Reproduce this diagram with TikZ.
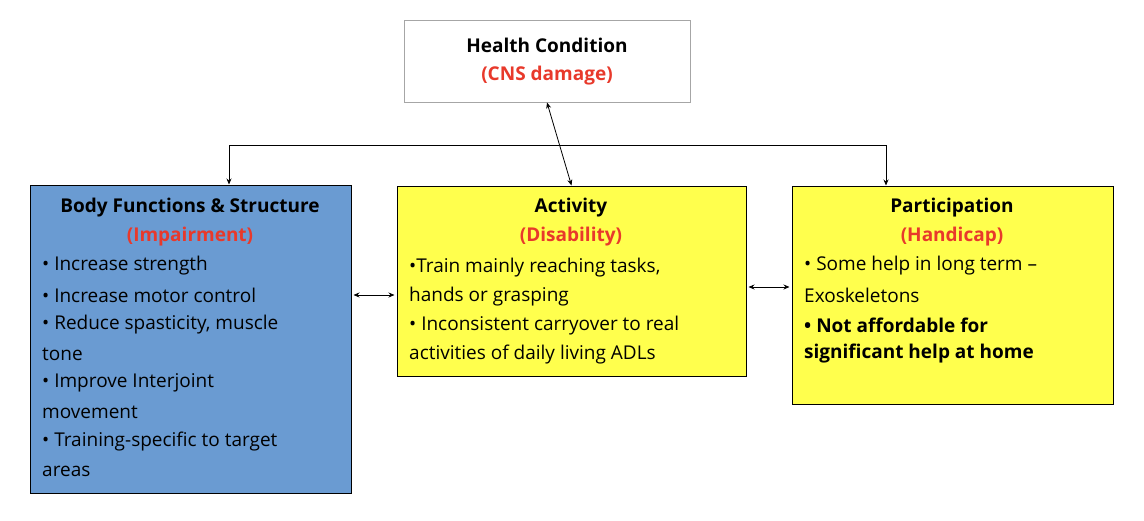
\documentclass[tikz,border=0pt]{standalone}
\usepackage{fontspec}
\setmainfont{Open Sans}
\usetikzlibrary{arrows.meta}
\definecolor{redt}{HTML}{E8392B}
\definecolor{bluef}{HTML}{6A9BD2}
\definecolor{yelf}{HTML}{FFFF4D}
\tikzset{
 box/.style={draw=black, line width=1pt},
 txt/.style={anchor=west, inner sep=0pt, font=\fontsize{19}{29}\selectfont},
 ttl/.style={anchor=center, inner sep=0pt, font=\fontsize{19}{29}\selectfont\bfseries},
 conn/.style={line width=0.8pt, -{Stealth[length=6pt,width=5pt]}},
 dconn/.style={line width=0.8pt, {Stealth[length=6pt,width=5pt]}-{Stealth[length=6pt,width=5pt]}}
}
\begin{document}
\begin{tikzpicture}[x=1pt,y=-1pt]
\useasboundingbox (0,0) rectangle (1144,520);
\node[box, draw=gray!70, fill=white, minimum width=286, minimum height=82, inner sep=0pt] (hc) at (547,61) {};
\node[ttl] (hct) at (547,45) {Health Condition};
\node[ttl, text=redt] (hcs) at (547,76) {(CNS damage)};
\node[box, fill=bluef, minimum width=321, minimum height=308, inner sep=0pt] (bf) at (190.5,339) {};
\node[box, fill=yelf, minimum width=349, minimum height=190, inner sep=0pt] (ac) at (571.5,281) {};
\node[box, fill=yelf, minimum width=321, minimum height=218, inner sep=0pt] (pa) at (952.5,295) {};
% body
\node[ttl] (b1) at (190,208) {Body Functions \& Structure};
\node[ttl, text=redt] (b2) at (190,237) {(Impairment)};
\node[txt] (b3) at (42,266) {• Increase strength};
\node[txt] (b4) at (42,295) {• Increase motor control};
\node[txt] (b5) at (42,325) {• Reduce spasticity, muscle};
\node[txt] (b6) at (42,354) {tone};
\node[txt] (b7) at (42,383) {• Improve Interjoint};
\node[txt] (b8) at (42,412) {movement};
\node[txt] (b9) at (42,442) {• Training-specific to target};
\node[txt] (b10) at (42,471) {areas};
% activity
\node[ttl] (a1) at (571,208) {Activity};
\node[ttl, text=redt] (a2) at (571,237) {(Disability)};
\node[txt] (a3) at (409,268) {•Train mainly reaching tasks,};
\node[txt] (a4) at (409,297) {hands or grasping};
\node[txt] (a5) at (409,326) {• Inconsistent carryover to real};
\node[txt] (a6) at (409,355) {activities of daily living ADLs};
% participation
\node[ttl] (p1) at (952,208) {Participation};
\node[ttl, text=redt] (p2) at (952,237) {(Handicap)};
\node[txt] (p3) at (804,266) {• Some help in long term –};
\node[txt] (p4) at (804,295) {Exoskeletons};
\node[txt, font=\fontsize{19}{29}\selectfont\bfseries] (p5) at (804,325) {• Not affordable for};
\node[txt, font=\fontsize{19}{29}\selectfont\bfseries] (p6) at (804,354) {significant help at home};
% connectors
\coordinate (jl) at (229,145);
\coordinate (jr) at (886,145);
\draw[dconn] (hc.south) -- (ac.north);
\draw[line width=0.8pt] (jl) -- (jr);
\draw[conn] (jl) -- (jl |- bf.north);
\draw[conn] (jr) -- (jr |- pa.north);
\draw[dconn] ([xshift=2pt]bf.east |- 0,295) -- ([xshift=-2pt]ac.west |- 0,295);
\draw[dconn] ([xshift=2pt]ac.east |- 0,287) -- ([xshift=-2pt]pa.west |- 0,287);
\end{tikzpicture}
\end{document}
